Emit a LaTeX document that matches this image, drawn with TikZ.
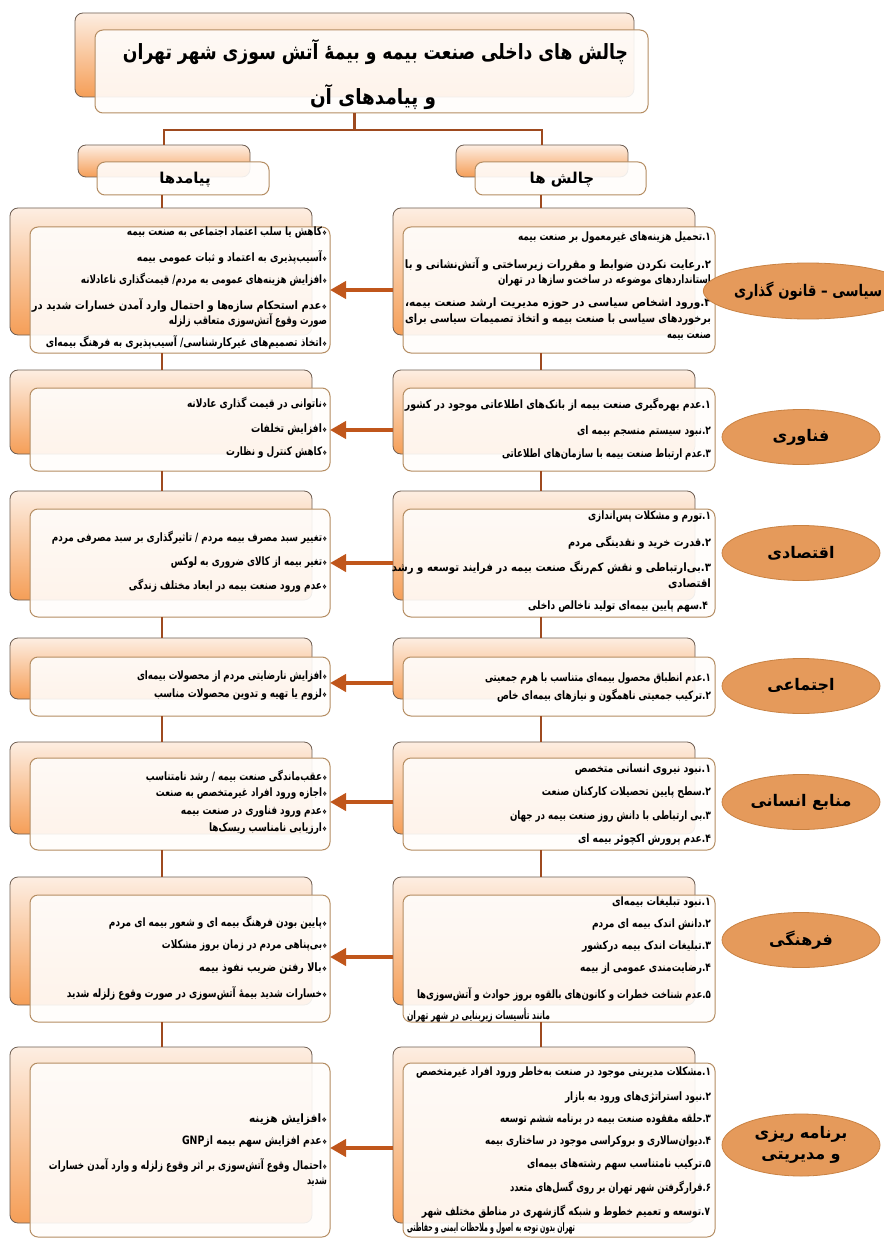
\documentclass[tikz,border=0pt]{standalone}
\usepackage{fontspec}
\usepackage{graphicx}
\usetikzlibrary{shapes.geometric,arrows.meta}
\TeXXeTstate=1
\newfontfamily\fa[Script=Arabic]{DejaVu Sans}
\newfontfamily\dv{DejaVu Sans}
\definecolor{backtop}{HTML}{FDEEE2}
\definecolor{backbot}{HTML}{F59E57}
\definecolor{backdraw}{HTML}{6F5E52}
\definecolor{frontdraw}{HTML}{B58D62}
\definecolor{frontfill}{HTML}{FFFDFB}
\definecolor{connC}{HTML}{9E4A1F}
\definecolor{arrC}{HTML}{C0561B}
\definecolor{labfill}{HTML}{E59A5B}
\definecolor{labdraw}{HTML}{C98243}
\newcommand\RL[2]{\resizebox{#1pt}{\height}{\beginR #2\endR}}
\newcommand\nm[1]{#1\kern0pt.\kern0pt}
\newcommand\bl{{\dv\fontsize{6.5}{6.5}\selectfont ❖}\kern0.5pt}
\newcommand\bx[6]{\node[#2, minimum width={(#5-#3)*1pt}, minimum height={(#6-#4)*1pt}] (#1) at ({(#3+#5)/2},{(#4+#6)/2}) {};}
\tikzset{
  backbox/.style={rounded corners=8pt, draw=backdraw, line width=0.8pt, top color=backtop, bottom color=backbot, inner sep=0pt, outer sep=0pt},
  frontbox/.style={rounded corners=8pt, draw=frontdraw, line width=1pt, fill=frontfill, fill opacity=0.9, inner sep=0pt, outer sep=0pt},
  txt/.style={inner sep=0pt, outer sep=0pt, font=\fa\bfseries\fontsize{11.5}{13}\selectfont},
  ttl/.style={inner sep=0pt, outer sep=0pt, font=\fa\bfseries\fontsize{21}{24}\selectfont},
  hdr/.style={inner sep=0pt, outer sep=0pt, font=\fa\bfseries\fontsize{15}{18}\selectfont},
  lab/.style={ellipse, draw=labdraw, line width=0.8pt, fill=labfill, inner sep=0pt, align=center, font=\fa\bfseries\fontsize{16}{21}\selectfont},
  conn/.style={draw=connC, line width=2.5pt},
  arr/.style={draw=arrC, line width=4pt, -{Triangle[length=16pt,width=17pt]}}
}
\begin{document}
\begin{tikzpicture}[x=1pt,y=-1pt]
\useasboundingbox (0,0) rectangle (883,1238);
\fill[white] (0,0) rectangle (883,1238);
% title
\bx{tb}{backbox}{75}{13}{634}{97}
\bx{tf}{frontbox}{95}{30}{648}{113}
\node[ttl,anchor=east] (t1) at (628,52) {\RL{505}{چالش های داخلی صنعت بیمه و بیمهٔ آتش سوزی شهر تهران}};
\node[ttl] (t2) at (373,97) {\RL{126}{و پیامدهای آن}};
% headers
\bx{hLb}{backbox}{78}{145}{250}{177}
\bx{hLf}{frontbox}{97}{162}{269}{195}
\node[hdr] (hLt) at (185,180) {\beginR پیامدها\endR};
\bx{hRb}{backbox}{456}{145}{628}{177}
\bx{hRf}{frontbox}{475}{162}{646}{195}
\node[hdr] (hRt) at (562,180) {\beginR چالش ها\endR};
% rows boxes
\bx{bL1}{backbox}{10}{208}{312}{335}\bx{fL1}{frontbox}{30}{227}{330}{353}
\bx{bR1}{backbox}{393}{208}{695}{335}\bx{fR1}{frontbox}{403}{227}{715}{353}
\bx{bL2}{backbox}{10}{370}{312}{454}\bx{fL2}{frontbox}{30}{388}{330}{471}
\bx{bR2}{backbox}{393}{370}{695}{454}\bx{fR2}{frontbox}{403}{388}{715}{471}
\bx{bL3}{backbox}{10}{491}{312}{600}\bx{fL3}{frontbox}{30}{509}{330}{617}
\bx{bR3}{backbox}{393}{491}{695}{600}\bx{fR3}{frontbox}{403}{509}{715}{617}
\bx{bL4}{backbox}{10}{638}{312}{699}\bx{fL4}{frontbox}{30}{657}{330}{716}
\bx{bR4}{backbox}{393}{638}{695}{699}\bx{fR4}{frontbox}{403}{657}{715}{716}
\bx{bL5}{backbox}{10}{742}{312}{834}\bx{fL5}{frontbox}{30}{758}{330}{850}
\bx{bR5}{backbox}{393}{742}{695}{834}\bx{fR5}{frontbox}{403}{758}{715}{850}
\bx{bL6}{backbox}{10}{877}{312}{1005}\bx{fL6}{frontbox}{30}{895}{330}{1022}
\bx{bR6}{backbox}{393}{877}{695}{1005}\bx{fR6}{frontbox}{403}{895}{715}{1022}
\bx{bL7}{backbox}{10}{1047}{312}{1223}\bx{fL7}{frontbox}{30}{1063}{330}{1237}
\bx{bR7}{backbox}{393}{1047}{695}{1223}\bx{fR7}{frontbox}{403}{1063}{715}{1237}
% row 1 texts
\node[txt,anchor=east] (r1a) at (711,238) {\RL{193}{\nm{۱}تحمیل هزینه^^^^200cهای غیرمعمول بر صنعت بیمه}};
\node[txt,anchor=east] (r1b) at (711,264) {\RL{306}{\nm{۲}رعایت نکردن ضوابط و مقررات زیرساختی و آتش^^^^200cنشانی و با}};
\node[txt,anchor=east] (r1c) at (711,281) {\RL{213}{استانداردهای موضوعه در ساخت^^^^200cو سازها در تهران}};
\node[txt,anchor=east] (r1d) at (711,304) {\RL{306}{\nm{۳}ورود اشخاص سیاسی در حوزه مدیریت ارشد صنعت بیمه،}};
\node[txt,anchor=east] (r1e) at (711,320) {\RL{306}{برخوردهای سیاسی با صنعت بیمه و اتخاذ تصمیمات سیاسی برای}};
\node[txt,anchor=east] (r1f) at (711,337) {\RL{44}{صنعت بیمه}};
\node[txt,anchor=east] (l1a) at (327,233) {\RL{200}{\bl کاهش یا سلب اعتماد اجتماعی به صنعت بیمه}};
\node[txt,anchor=east] (l1b) at (327,257) {\RL{190}{\bl آسیب^^^^200cپذیری به اعتماد و ثبات عمومی بیمه}};
\node[txt,anchor=east] (l1c) at (327,280) {\RL{246}{\bl افزایش هزینه^^^^200cهای عمومی به مردم/ قیمت^^^^200cگذاری ناعادلانه}};
\node[txt,anchor=east] (l1d) at (327,305) {\RL{295}{\bl عدم استحکام سازه^^^^200cها و احتمال وارد آمدن خسارات شدید در}};
\node[txt,anchor=east] (l1e) at (327,320) {\RL{158}{صورت وقوع آتش^^^^200cسوزی متعاقب زلزله}};
\node[txt,anchor=east] (l1f) at (327,342) {\RL{281}{\bl اتخاذ تصمیم^^^^200cهای غیرکارشناسی/ آسیب^^^^200cپذیری به فرهنگ بیمه^^^^200cای}};
% row 2
\node[txt,anchor=east] (r2a) at (711,405) {\RL{306}{\nm{۱}عدم بهره^^^^200cگیری صنعت بیمه از بانک^^^^200cهای اطلاعاتی موجود در کشور}};
\node[txt,anchor=east] (r2b) at (711,432) {\RL{134}{\nm{۲}نبود سیستم منسجم بیمه ای}};
\node[txt,anchor=east] (r2c) at (711,455) {\RL{209}{\nm{۳}عدم ارتباط صنعت بیمه با سازمان^^^^200cهای اطلاعاتی}};
\node[txt,anchor=east] (l2a) at (327,404) {\RL{140}{\bl ناتوانی در قیمت گذاری عادلانه}};
\node[txt,anchor=east] (l2b) at (327,430) {\RL{76}{\bl افزایش تخلفات}};
\node[txt,anchor=east] (l2c) at (327,453) {\RL{101}{\bl کاهش کنترل و نظارت}};
% row 3
\node[txt,anchor=east] (r3a) at (711,517) {\RL{123}{\nm{۱}تورم و مشکلات پس^^^^200cاندازی}};
\node[txt,anchor=east] (r3b) at (711,543) {\RL{143}{\nm{۲}قدرت خرید و نقدینگی مردم}};
\node[txt,anchor=east] (r3c) at (711,568) {\RL{319}{\nm{۳}بی^^^^200cارتباطی و نقش کم^^^^200cرنگ صنعت بیمه در فرایند توسعه و رشد}};
\node[txt,anchor=east] (r3d) at (711,584) {\RL{43}{اقتصادی}};
\node[txt,anchor=east] (r3e) at (708,607) {\RL{180}{\nm{۴}سهم پایین بیمه^^^^200cای تولید ناخالص داخلی}};
\node[txt,anchor=east] (l3a) at (327,538) {\RL{275}{\bl تغییر سبد مصرف بیمه مردم / تاثیرگذاری بر سبد مصرفی مردم}};
\node[txt,anchor=east] (l3b) at (327,563) {\RL{156}{\bl تغیر بیمه از کالای ضروری به لوکس}};
\node[txt,anchor=east] (l3c) at (327,586) {\RL{198}{\bl عدم ورود صنعت بیمه در ابعاد مختلف زندگی}};
% row 4
\node[txt,anchor=east] (r4a) at (711,679) {\RL{226}{\nm{۱}عدم انطباق محصول بیمه^^^^200cای متناسب با هرم جمعیتی}};
\node[txt,anchor=east] (r4b) at (711,696) {\RL{214}{\nm{۲}ترکیب جمعیتی ناهمگون و نیازهای بیمه^^^^200cای خاص}};
\node[txt,anchor=east] (l4a) at (327,677) {\RL{190}{\bl افزایش نارضایتی مردم از محصولات بیمه^^^^200cای}};
\node[txt,anchor=east] (l4b) at (327,695) {\RL{173}{\bl لزوم یا تهیه و تدوین محصولات مناسب}};
% row 5
\node[txt,anchor=east] (r5a) at (711,770) {\RL{136}{\nm{۱}نبود نیروی انسانی متخصص}};
\node[txt,anchor=east] (r5b) at (711,793) {\RL{169}{\nm{۲}سطح پایین تحصیلات کارکنان صنعت}};
\node[txt,anchor=east] (r5c) at (711,817) {\RL{201}{\nm{۳}بی ارتباطی با دانش روز صنعت بیمه در جهان}};
\node[txt,anchor=east] (r5d) at (711,840) {\RL{133}{\nm{۴}عدم پرورش اکچوئر بیمه ای}};
\node[txt,anchor=east] (l5a) at (327,777) {\RL{181}{\bl عقب^^^^200cماندگی صنعت بیمه / رشد نامتناسب}};
\node[txt,anchor=east] (l5b) at (327,794) {\RL{171}{\bl اجازه ورود افراد غیرمتخصص به صنعت}};
\node[txt,anchor=east] (l5c) at (327,812) {\RL{146}{\bl عدم ورود فناوری در صنعت بیمه}};
\node[txt,anchor=east] (l5d) at (327,829) {\RL{118}{\bl ارزیابی نامناسب ریسک^^^^200cها}};
% row 6
\node[txt,anchor=east] (r6a) at (711,903) {\RL{99}{\nm{۱} نبود تبلیغات بیمه^^^^200cای}};
\node[txt,anchor=east] (r6b) at (711,925) {\RL{119}{\nm{۲}دانش اندک بیمه ای مردم}};
\node[txt,anchor=east] (r6c) at (711,947) {\RL{129}{\nm{۳}تبلیغات اندک بیمه درکشور}};
\node[txt,anchor=east] (r6d) at (711,969) {\RL{131}{\nm{۴}رضایت^^^^200cمندی عمومی از بیمه}};
\node[txt,anchor=east] (r6e) at (711,994) {\RL{294}{\nm{۵}عدم شناخت خطرات و کانون^^^^200cهای بالقوه بروز حوادث و آتش^^^^200cسوزی^^^^200cها}};
\node[txt,anchor=west] (r6f) at (407,1015) {\RL{143}{مانند تأسیسات زیربنایی در شهر تهران}};
\node[txt,anchor=east] (l6a) at (327,923) {\RL{218}{\bl پایین بودن  فرهنگ بیمه ای و شعور بیمه ای مردم}};
\node[txt,anchor=east] (l6b) at (327,946) {\RL{165}{\bl بی^^^^200cپناهی مردم در زمان بروز مشکلات}};
\node[txt,anchor=east] (l6c) at (327,969) {\RL{128}{\bl بالا رفتن ضریب نفوذ بیمه}};
\node[txt,anchor=east] (l6d) at (327,993) {\RL{260}{\bl خسارات شدید بیمهٔ آتش^^^^200cسوزی در صورت وقوع زلزله شدید}};
% row 7
\node[txt,anchor=east] (r7a) at (711,1073) {\RL{295}{\nm{۱}مشکلات مدیریتی موجود در صنعت به^^^^200cخاطر ورود افراد غیرمتخصص}};
\node[txt,anchor=east] (r7b) at (711,1098) {\RL{146}{\nm{۲}نبود استراتژی^^^^200cهای ورود به بازار}};
\node[txt,anchor=east] (r7c) at (711,1120) {\RL{211}{\nm{۳}حلقه مفقوده صنعت بیمه در برنامه ششم توسعه}};
\node[txt,anchor=east] (r7d) at (711,1142) {\RL{226}{\nm{۴}دیوان^^^^200cسالاری و بروکراسی موجود در ساختاری بیمه}};
\node[txt,anchor=east] (r7e) at (711,1165) {\RL{184}{\nm{۵}ترکیب نامتناسب سهم رشته^^^^200cهای بیمه^^^^200cای}};
\node[txt,anchor=east] (r7f) at (711,1188) {\RL{201}{\nm{۶}قرارگرفتن شهر تهران بر روی گسل^^^^200cهای متعدد}};
\node[txt,anchor=east] (r7g) at (710,1212) {\RL{288}{\nm{۷}توسعه و تعمیم خطوط و شبکه گازشهری در مناطق مختلف شهر}};
\node[txt,anchor=west] (r7h) at (407,1229) {\RL{168}{تهران بدون توجه به اصول و ملاحظات ایمنی و حفاظتی}};
\node[txt,anchor=east] (l7a) at (327,1120) {\RL{78}{\bl افزایش هزینه}};
\node[txt,anchor=east] (l7b) at (327,1142) {\RL{145}{\bl عدم افزایش سهم بیمه از\kern0pt\beginL GNP\endL}};
\node[txt,anchor=east] (l7c) at (327,1165) {\RL{278}{\bl احتمال وقوع آتش^^^^200cسوزی بر اثر وقوع زلزله و وارد آمدن خسارات}};
\node[txt,anchor=east] (l7d) at (327,1182) {\RL{20}{شدید}};
% connectors
\coordinate (hbar) at (0,130);
\coordinate (colL) at (162,0);
\coordinate (colR) at (541,0);
\draw[conn] (tf.south -| tb) -- (tb |- hbar) -| (hLb.north);
\draw[conn] (tb |- hbar) -| (hRb.north);
\draw[conn] (hLf.south -| colL) -- (bL1.north -| colL);
\draw[conn] (hRf.south -| colR) -- (bR1.north -| colR);
\foreach \a/\b in {1/2,2/3,3/4,4/5,5/6,6/7}{
  \draw[conn] (fL\a.south -| colL) -- (bL\b.north -| colL);
  \draw[conn] (fR\a.south -| colR) -- (bR\b.north -| colR);
}
% arrows
\foreach \i/\y in {1/290,2/430,3/563,4/683,5/802,6/957,7/1148}{
  \coordinate (ay\i) at (0,\y);
  \draw[arr] (bR\i.west |- ay\i) -- (fL\i.east |- ay\i);
}
% labels
\node[lab, minimum width=182pt, minimum height=56pt] (e1) at (808,291) {\RL{148}{سیاسی – قانون گذاری}};
\node[lab, minimum width=158pt, minimum height=55pt] (e2) at (801,437) {\beginR فناوری\endR};
\node[lab, minimum width=158pt, minimum height=55pt] (e3) at (801,553) {\beginR اقتصادی\endR};
\node[lab, minimum width=158pt, minimum height=55pt] (e4) at (801,686) {\beginR اجتماعی\endR};
\node[lab, minimum width=158pt, minimum height=55pt] (e5) at (801,802) {\beginR منابع انسانی\endR};
\node[lab, minimum width=158pt, minimum height=55pt] (e6) at (801,940) {\beginR فرهنگی\endR};
\node[lab, minimum width=158pt, minimum height=62pt] (e7) at (801,1145) {\beginR برنامه ریزی\endR\\\beginR و مدیریتی\endR};
\end{tikzpicture}
\end{document}
